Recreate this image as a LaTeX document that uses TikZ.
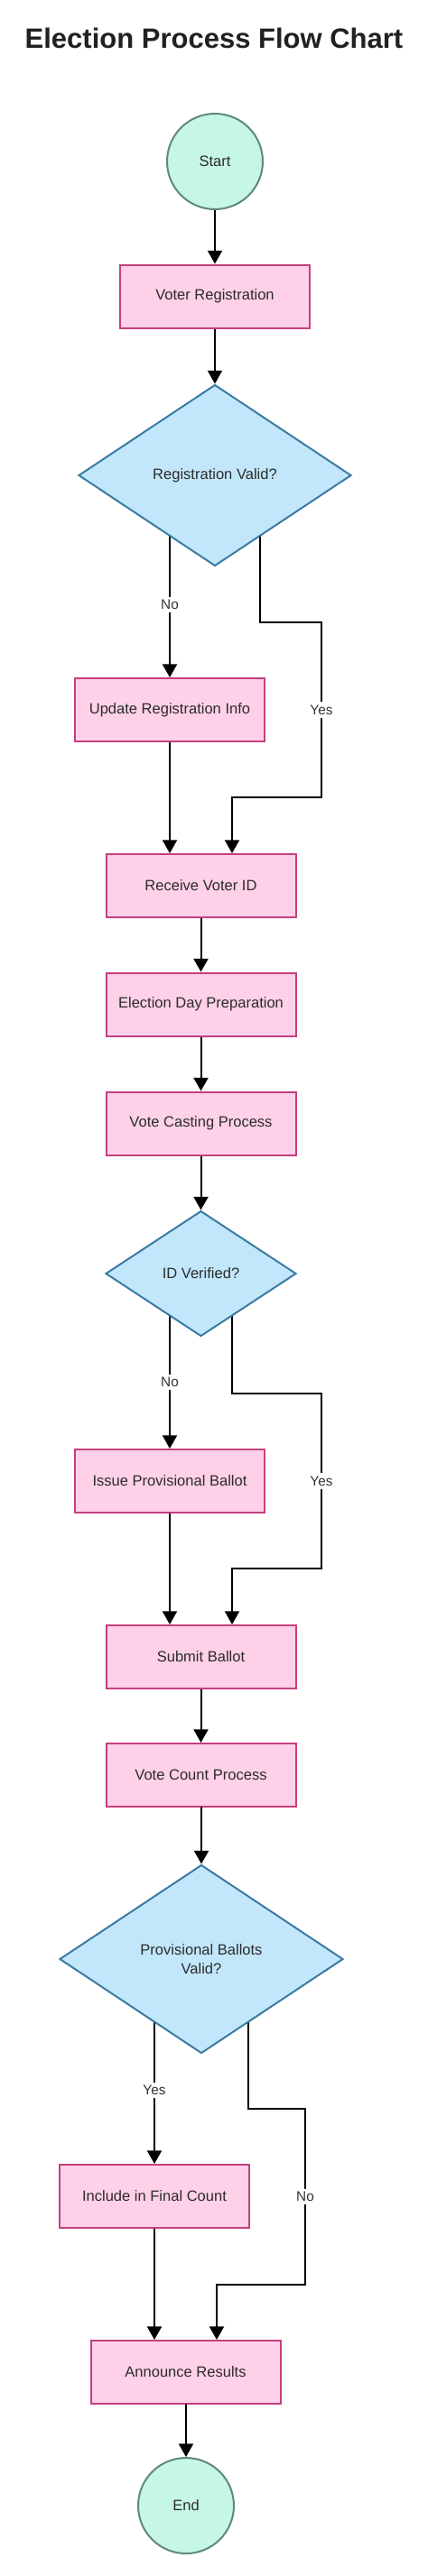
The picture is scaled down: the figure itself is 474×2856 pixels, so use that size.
\documentclass[tikz,border=0pt]{standalone}
\usepackage{fontspec}
\setmainfont{Liberation Sans}
\usetikzlibrary{shapes.geometric,arrows.meta,backgrounds,calc}
\definecolor{termfill}{HTML}{C6F6E4}
\definecolor{termline}{HTML}{5E8A7A}
\definecolor{boxfill}{HTML}{FFD1E8}
\definecolor{boxline}{HTML}{C4407F}
\definecolor{decfill}{HTML}{C2E7FB}
\definecolor{decline}{HTML}{3B7BA3}
\definecolor{txt}{HTML}{2B2B2B}
\begin{document}
\begin{tikzpicture}[x=0.75pt,y=-0.75pt]
\tikzstyle{every node}+=[inner sep=0pt, text=txt, font=\fontsize{12.4}{15.75}\selectfont]
\tikzstyle{terminal}=[circle, draw=termline, fill=termfill, line width=1.5pt, minimum size=79.5pt]
\tikzstyle{box}=[rectangle, draw=boxline, fill=boxfill, line width=1.5pt, minimum width=157.5pt, minimum height=52.5pt]
\tikzstyle{decision}=[diamond, draw=decline, fill=decfill, line width=1.5pt, align=center]
\tikzstyle{flow}=[black, line width=1.5pt, -{Triangle[width=12pt,length=11pt]}]
\tikzstyle{lbl}=[fill=white, inner sep=2.5pt, text=black!80, font=\fontsize{11.5}{13}\selectfont]
\useasboundingbox (0,0) rectangle (474,2856);
\node [font=\bfseries\fontsize{23.25}{28}\selectfont, text=black!87] (title) at (237,42) {Election Process Flow Chart};
\node [terminal] (start) at (238,179) {Start};
\node [box] (reg) at (238,328.5) {Voter Registration};
\node [decision, minimum width=226.5pt, minimum height=150.75pt] (valid) at (238,527) {Registration Valid?};
\node [box] (upd) at (188,787) {Update Registration Info};
\node [box] (recv) at (222.5,982) {Receive Voter ID};
\node [box] (prep) at (222.5,1113.5) {Election Day Preparation};
\node [box] (cast) at (222.5,1245.5) {Vote Casting Process};
\node [decision, minimum width=158.25pt, minimum height=104.25pt] (idv) at (222.5,1412) {ID Verified?};
\node [box] (iss) at (188,1642) {Issue Provisional Ballot};
\node [box] (sub) at (222.5,1837) {Submit Ballot};
\node [box] (cnt) at (222.5,1968) {Vote Count Process};
\node [decision, minimum width=235.5pt, minimum height=156.75pt] (pv) at (223,2172) {Provisional Ballots\\Valid?};
\node [box] (inc) at (171,2435) {Include in Final Count};
\node [box] (ann) at (205.5,2630) {Announce Results};
\node [terminal] (end) at (206,2778) {End};
\draw [flow] (start) -- (reg);
\draw [flow] (reg) -- (valid);
\draw [flow] (upd.south) -- (upd.south |- recv.north);
\draw [flow] (recv) -- (prep);
\draw [flow] (prep) -- (cast);
\draw [flow] (cast) -- (idv);
\draw [flow] (iss.south) -- (iss.south |- sub.north);
\draw [flow] (sub) -- (cnt);
\draw [flow] (cnt) -- (cnt.south -| pv.north) -- (pv.north);
\draw [flow] (inc.south) -- (inc.south |- ann.north);
\draw [flow] (ann.south) -- (ann.south -| end.north) -- (end.north);
\begin{scope}[on background layer]
\draw [flow] (valid.center -| upd.north) -- node[lbl, pos=0.64] {No} (upd.north);
\draw [flow] ($(valid)+(50,0)$) |- (356,690) -- node[lbl] {Yes} (356,884) -| ($(recv.north)+(34.5,0)$);
\draw [flow] (idv.center -| iss.north) -- node[lbl, pos=0.62] {No} (iss.north);
\draw [flow] ($(idv)+(34.5,0)$) |- (356,1545) -- node[lbl] {Yes} (356,1739) -| ($(sub.north)+(34.5,0)$);
\draw [flow] (pv.center -| inc.north) -- node[lbl, pos=0.64] {Yes} (inc.north);
\draw [flow] ($(pv)+(52,0)$) |- (338,2338) -- node[lbl] {No} (338,2533) -| ($(ann.north)+(34.5,0)$);
\end{scope}
\end{tikzpicture}
\end{document}
